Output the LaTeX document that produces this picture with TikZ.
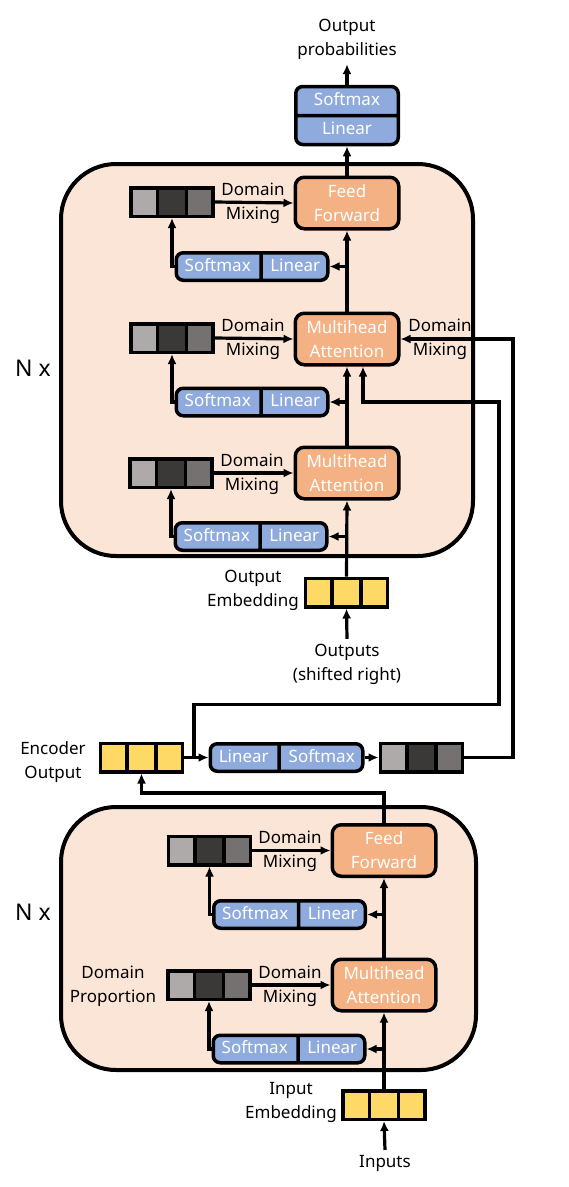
\documentclass[tikz,border=0pt]{standalone}
\usepackage{fontspec}
\setmainfont{Noto Sans}
\usetikzlibrary{shapes.multipart,arrows.meta,positioning}

\definecolor{panelbg}{HTML}{FBE5D6}
\definecolor{sublayerfill}{HTML}{F4B183}
\definecolor{routerfill}{HTML}{8FAADC}
\definecolor{embfill}{HTML}{FFD966}
\definecolor{mixlight}{HTML}{AEAAAA}
\definecolor{mixdark}{HTML}{3B3838}
\definecolor{mixmid}{HTML}{767171}

\begin{document}
\begin{tikzpicture}[x=1pt, y=-1pt, ->, >={Latex[length=10pt,width=9pt]}, line width=3.2pt,
	font=\fontsize{17}{24}\selectfont,
	panel/.style={draw, -, line width=4pt, rounded corners=55pt, fill=panelbg},
	sublayer/.style={draw, line width=3.5pt, rounded corners=9pt, fill=sublayerfill, text=white, align=center, minimum width=103.5pt, minimum height=51.5pt, inner sep=0pt},
	router/.style={rectangle split, rectangle split horizontal, rectangle split parts=2, draw, line width=3.5pt, rounded corners=7pt, fill=routerfill, text=white, inner xsep=8.25pt, inner ysep=1.75pt},
	cellrow/.style={rectangle split, rectangle split horizontal, rectangle split parts=3, draw, line width=3.5pt, inner sep=0pt,
		rectangle split empty part width=19.8pt, rectangle split empty part height=14.25pt, rectangle split empty part depth=14.25pt},
	mixcells/.style={cellrow, rectangle split part fill={mixlight,mixdark,mixmid}},
	embcells/.style={cellrow, rectangle split part fill={embfill,embfill,embfill}},
	lbl/.style={align=center, text=black},
	repeat/.style={font=\fontsize{23}{28}\selectfont}]
	\useasboundingbox (0,0) rectangle (569,1187);

	% decoder stack
	\node[panel, minimum width=412pt, minimum height=392pt] (dec) at (267,360) {};
	\node[lbl, repeat] (nxd) at (33,368) {N x};

	\node[rectangle split, rectangle split parts=2, draw, line width=3.5pt, rounded corners=7pt, fill=routerfill, text=white, inner xsep=5.25pt, inner ysep=0.75pt] (prob) at (347,115.5)
		{\makebox[92pt]{\strut Softmax}\nodepart{two}\makebox[92pt]{\strut Linear}};
	\node[lbl] (outprob) at (347,39) {Output\\probabilities};

	\node[sublayer] (ffd) at (347,203) {Feed\\Forward};
	\node[mixcells] (dmx3) at (172,202) {};
	\node[lbl] (mixd3) at (253,203) {Domain\\Mixing};
	\node[router] (rt3) at (252,266.5) {\makebox[66.5pt]{\strut Softmax}\nodepart{two}\makebox[48.5pt]{\strut Linear}};

	\node[sublayer] (mhd2) at (347,339) {Multihead\\Attention};
	\node[mixcells] (dmx2) at (172,338) {};
	\node[lbl] (mixd2) at (253,339) {Domain\\Mixing};
	\node[lbl] (mixx) at (440,339) {Domain\\Mixing};
	\node[router] (rt2) at (252,402) {\makebox[66.5pt]{\strut Softmax}\nodepart{two}\makebox[48.5pt]{\strut Linear}};

	\node[sublayer] (mhd1) at (347,473) {Multihead\\Attention};
	\node[mixcells] (dmx1) at (171,473) {};
	\node[lbl] (mixd1) at (252,474) {Domain\\Mixing};
	\node[router] (rt1) at (251,536.5) {\makebox[66.5pt]{\strut Softmax}\nodepart{two}\makebox[48.5pt]{\strut Linear}};

	\node[embcells] (embd) at (346.5,592.5) {};
	\node[lbl] (embdtxt) at (253,590) {Output\\Embedding};
	\node[lbl] (outs) at (347,664) {Outputs\\(shifted right)};

	% encoder output and routing
	\node[embcells] (encout) at (141.5,757.5) {};
	\node[lbl] (encouttxt) at (53,762) {Encoder\\Output};
	\node[router] (rte) at (286.5,757.5) {\makebox[50.5pt]{\strut Linear}\nodepart{two}\makebox[65.5pt]{\strut Softmax}};
	\node[mixcells] (dmxe) at (421.5,757.5) {};

	% encoder stack
	\node[panel, minimum width=415pt, minimum height=263pt] (enc) at (268.5,938.5) {};
	\node[lbl, repeat] (nxe) at (33,912) {N x};

	\node[sublayer] (ffe) at (384,850.5) {Feed\\Forward};
	\node[mixcells] (dme2) at (209.5,850.5) {};
	\node[lbl] (mixe2) at (290,851) {Domain\\Mixing};
	\node[router] (rte2) at (289.5,914.5) {\makebox[66.5pt]{\strut Softmax}\nodepart{two}\makebox[48.5pt]{\strut Linear}};

	\node[sublayer] (mhe) at (384,985) {Multihead\\Attention};
	\node[mixcells] (dme1) at (209,985) {};
	\node[lbl] (mixe1) at (290,986) {Domain\\Mixing};
	\node[lbl] (prop) at (113,986) {Domain\\Proportion};
	\node[router] (rte1) at (289,1049) {\makebox[66.5pt]{\strut Softmax}\nodepart{two}\makebox[48.5pt]{\strut Linear}};

	\node[embcells] (embe) at (384,1105) {};
	\node[lbl] (embetxt) at (291,1102) {Input\\Embedding};
	\node[lbl] (ins) at (385,1163) {Inputs};

	% decoder connections
	\draw (outs.north) -- (embd.south);
	\draw (embd.north) -- (mhd1.south);
	\draw (embd.north |- rt1.east) -- (rt1.east);
	\draw (rt1.west) -| (dmx1.south);
	\draw (dmx1.east) -- (mhd1.west);
	\draw (mhd1.north) -- (mhd2.south);
	\draw (mhd1.north |- rt2.east) -- (rt2.east);
	\draw (rt2.west) -| (dmx2.south);
	\draw (dmx2.east) -- (mhd2.west);
	\draw (mhd2.north) -- (ffd.south);
	\draw (mhd2.north |- rt3.east) -- (rt3.east);
	\draw (rt3.west) -| (dmx3.south);
	\draw (dmx3.east) -- (ffd.west);
	\draw (ffd.north) -- (prob.south);
	\draw (prob.north) -- (outprob.south);

	% encoder output to decoder
	\draw (encout.east) -- (rte.west);
	\draw (rte.east) -- (dmxe.west);
	\draw (dmxe.east) -- ++(48.5,0) |- (mhd2.east);
	\draw ([xshift=9.5pt]encout.east) -- ++(0,-53) -- ++(305,0) |- ([xshift=16pt]mhd2.south |- rt2.east) -- ([xshift=16pt]mhd2.south);
	\draw (ffe.north) -- ++(0,-30) -| (encout.south);

	% encoder connections
	\draw (ins.north) -- (embe.south);
	\draw (embe.north) -- (mhe.south);
	\draw (embe.north |- rte1.east) -- (rte1.east);
	\draw (rte1.west) -| (dme1.south);
	\draw (dme1.east) -- (mhe.west);
	\draw (mhe.north) -- (ffe.south);
	\draw (mhe.north |- rte2.east) -- (rte2.east);
	\draw (rte2.west) -| (dme2.south);
	\draw (dme2.east) -- (ffe.west);
\end{tikzpicture}
\end{document}
